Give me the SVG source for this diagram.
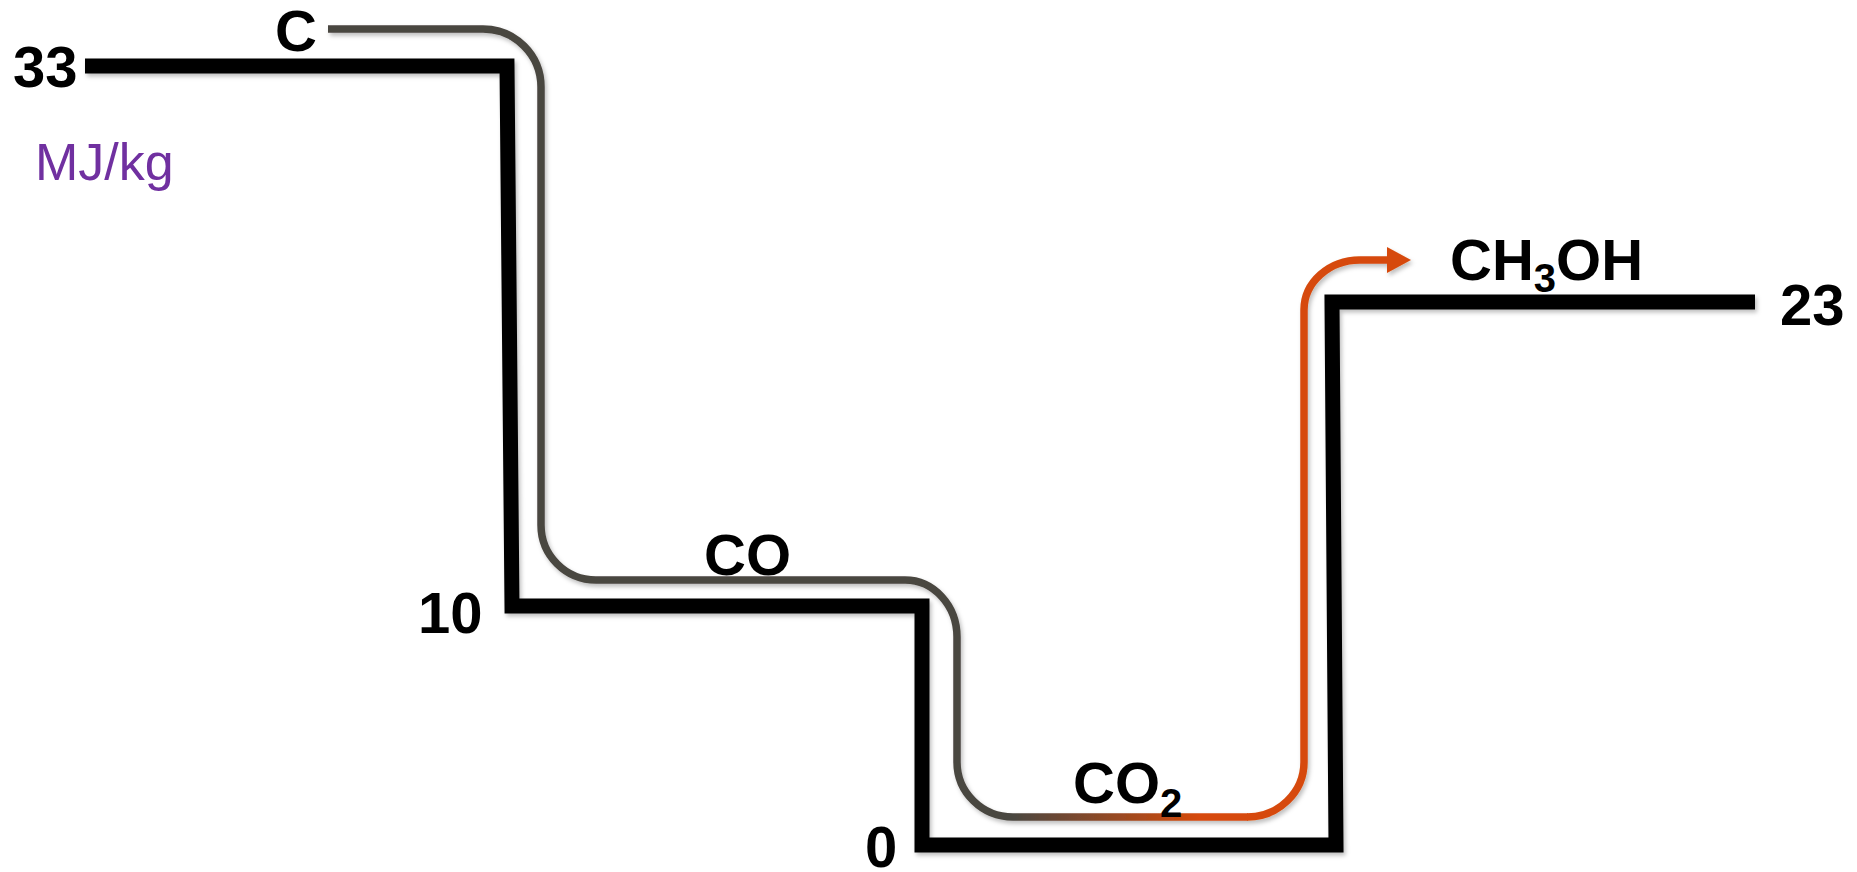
<svg xmlns="http://www.w3.org/2000/svg" width="1857" height="872" viewBox="0 0 1857 872">
<style>
.lbl{font-family:"Liberation Sans",Arial,sans-serif;font-weight:bold;font-size:58px;fill:#000}
.sub{font-size:40px}
.unit{font-family:"Liberation Sans",Arial,sans-serif;font-size:52px;fill:#7030a0}
.level{fill:none;stroke:#000;stroke-width:15;stroke-linejoin:miter}
.flow{fill:none;stroke-width:7.5;stroke-linecap:butt}
</style>
<defs>
<filter id="sh" x="-5%" y="-5%" width="110%" height="110%">
<feDropShadow dx="2" dy="3" stdDeviation="2" flood-color="#000" flood-opacity="0.25"/>
</filter>
<linearGradient id="grad" gradientUnits="userSpaceOnUse" x1="1013" y1="0" x2="1200" y2="0">
<stop offset="0" stop-color="#4a4640"/>
<stop offset="1" stop-color="#d64a0a"/>
</linearGradient>
<marker id="arrow" markerUnits="userSpaceOnUse" markerWidth="24" markerHeight="26" refX="0" refY="13" orient="auto">
<path d="M0,0 L24,13 L0,26 Z" fill="#d64a0a"/>
</marker>
</defs>
<g id="energy-levels" filter="url(#sh)">
<path class="level" d="M85,66 H507 L512,606 H922 V845 H1336 L1332,302 H1755"/>
</g>
<g id="connectors" filter="url(#sh)">
<path class="flow" stroke="#4a4640" d="M328,29 H483 A58,58 0 0 1 541,87 V525 A55,55 0 0 0 596,580 H905 A52,57 0 0 1 957,637 V762 A56,55 0 0 0 1013,817"/>
<path class="flow" stroke="url(#grad)" d="M1013,817 H1248"/>
<path class="flow" stroke="#d64a0a" d="M1247,817 A57,55 0 0 0 1304,762 V310 A56,50 0 0 1 1360,260 H1387" marker-end="url(#arrow)"/>
</g>
<g id="node-c"><text class="lbl" x="275" y="51">C</text></g>
<g id="node-co"><text class="lbl" x="704" y="575">CO</text></g>
<g id="node-co2"><text class="lbl" x="1073" y="803">CO<tspan class="sub" dy="14">2</tspan></text></g>
<g id="node-ch3oh"><text class="lbl" x="1450" y="280">CH<tspan class="sub" dy="12">3</tspan><tspan dy="-12">OH</tspan></text></g>
<g id="values">
<text class="lbl" x="13" y="87">33</text>
<text class="lbl" x="418" y="633">10</text>
<text class="lbl" x="865" y="867">0</text>
<text class="lbl" x="1780" y="325">23</text>
<text class="unit" x="35" y="180">MJ/kg</text>
</g>
</svg>
